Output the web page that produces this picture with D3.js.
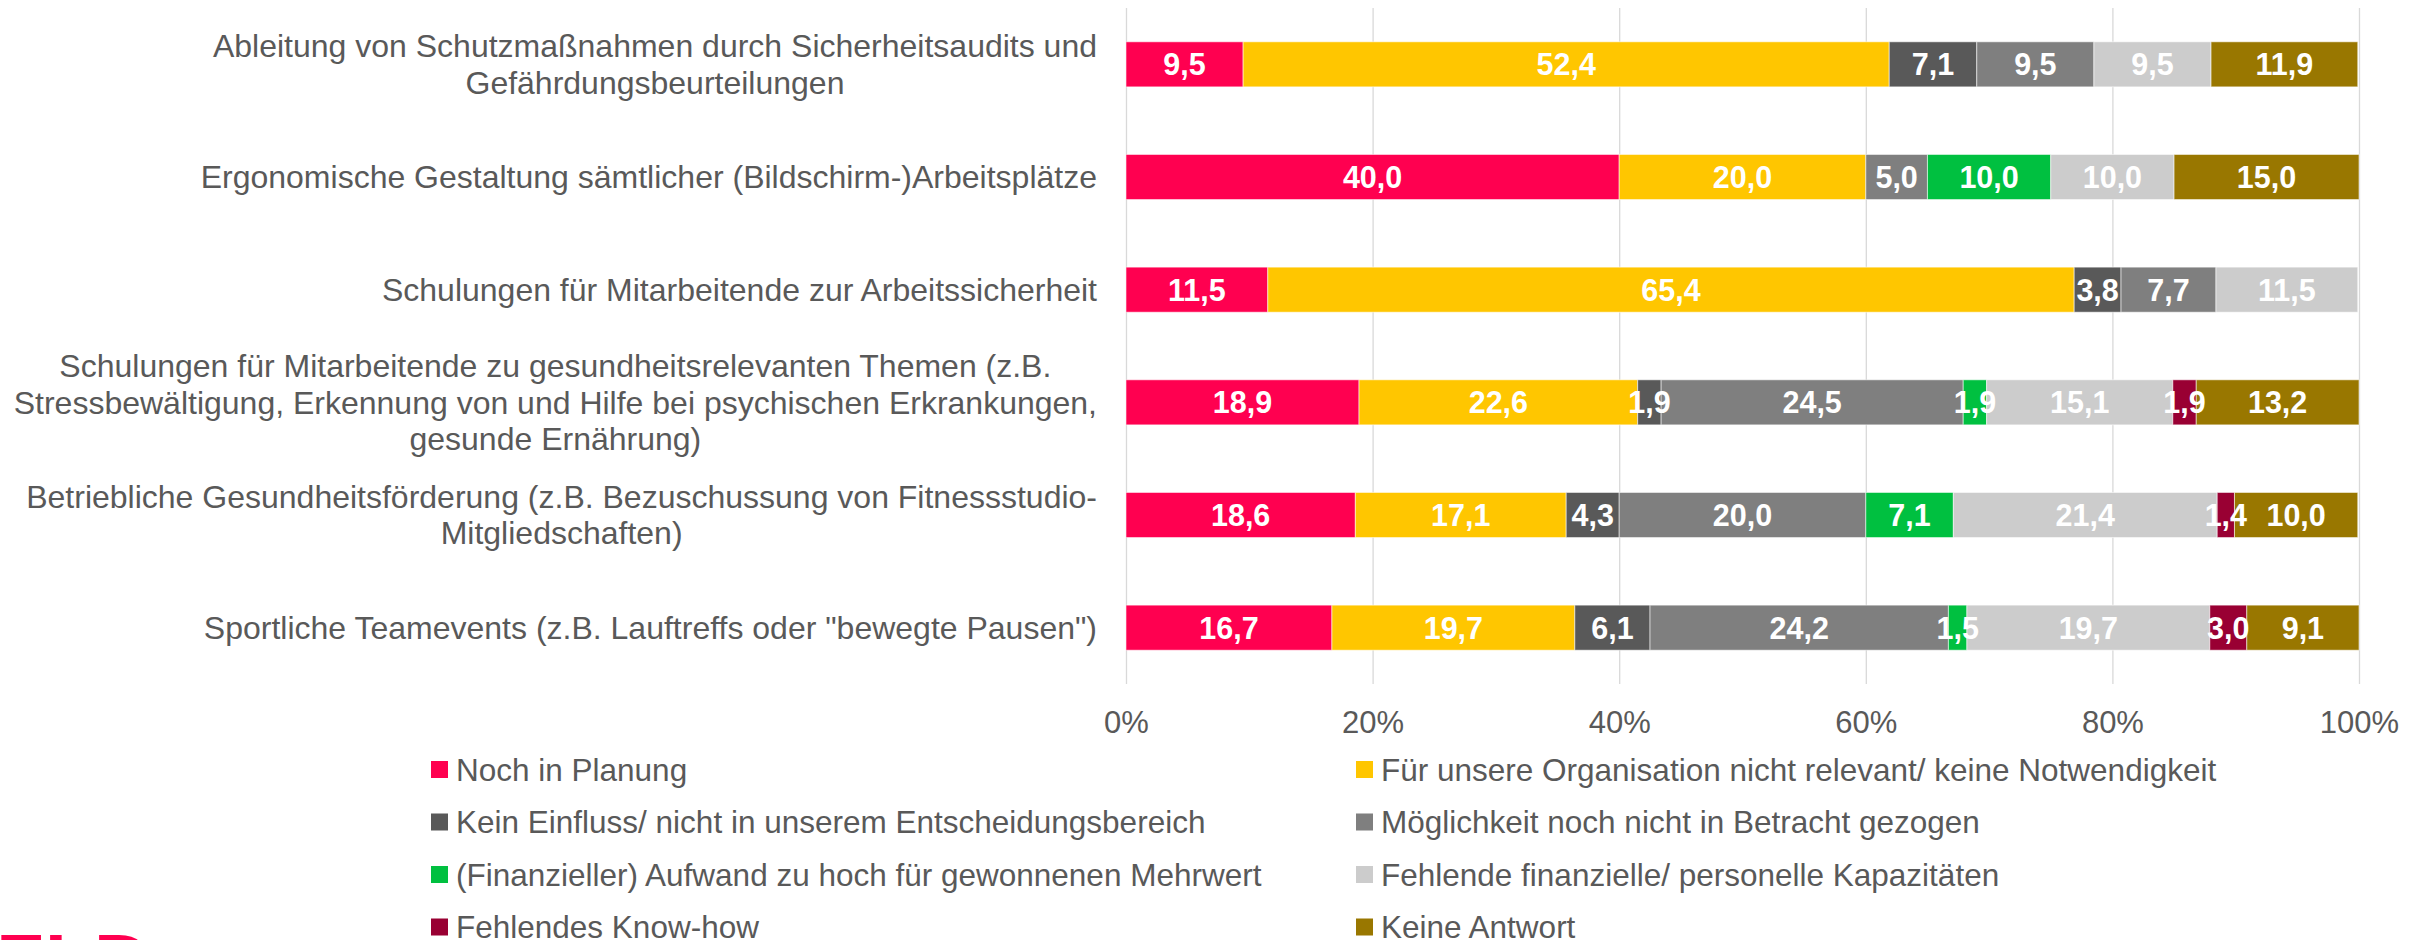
<!DOCTYPE html>
<html>
<head>
<meta charset="utf-8">
<script src="https://cdn.jsdelivr.net/npm/d3@7"></script>
<style>
  html, body { margin: 0; padding: 0; background: #ffffff; }
  svg { display: block; font-family: "Liberation Sans", Arial, sans-serif; }
</style>
</head>
<body>
<svg id="chart" width="2415" height="940"></svg>
<script>
// ---- data ----
const categories = [
  "Ableitung von Schutzmaßnahmen durch Sicherheitsaudits und\nGefährdungsbeurteilungen",
  "Ergonomische Gestaltung sämtlicher (Bildschirm-)Arbeitsplätze",
  "Schulungen für Mitarbeitende zur Arbeitssicherheit",
  "Schulungen für Mitarbeitende zu gesundheitsrelevanten Themen (z.B.\nStressbewältigung, Erkennung von und Hilfe bei psychischen Erkrankungen,\ngesunde Ernährung)",
  "Betriebliche Gesundheitsförderung (z.B. Bezuschussung von Fitnessstudio-\nMitgliedschaften)",
  "Sportliche Teamevents (z.B. Lauftreffs oder \"bewegte Pausen\")"
];
const seriesNames = [
  "Noch in Planung",
  "Für unsere Organisation nicht relevant/ keine Notwendigkeit",
  "Kein Einfluss/ nicht in unserem Entscheidungsbereich",
  "Möglichkeit noch nicht in Betracht gezogen",
  "(Finanzieller) Aufwand zu hoch für gewonnenen Mehrwert",
  "Fehlende finanzielle/ personelle Kapazitäten",
  "Fehlendes Know-how",
  "Keine Antwort"
];
const nochInPlanung      = [9.5, 40.0, 11.5, 18.9, 18.6, 16.7];
const nichtRelevant      = [52.4, 20.0, 65.4, 22.6, 17.1, 19.7];
const keinEinfluss       = [7.1, 0, 3.8, 1.9, 4.3, 6.1];
const nichtInBetracht    = [9.5, 5.0, 7.7, 24.5, 20.0, 24.2];
const aufwandZuHoch      = [0, 10.0, 0, 1.9, 7.1, 1.5];
const fehlendeKapazitaet = [9.5, 10.0, 11.5, 15.1, 21.4, 19.7];
const fehlendesKnowHow   = [0, 0, 0, 1.9, 1.4, 3.0];
const keineAntwort       = [11.9, 15.0, 0, 13.2, 10.0, 9.1];
const xTicks = [0, 20, 40, 60, 80, 100];
const colors = ["#FF0050", "#FFC600", "#595959", "#7F7F7F", "#00C040", "#CCCCCC", "#990033", "#997700"];

const seriesValues = [nochInPlanung, nichtRelevant, keinEinfluss, nichtInBetracht,
                      aufwandZuHoch, fehlendeKapazitaet, fehlendesKnowHow, keineAntwort];

// table for d3.stack
const table = categories.map((c, i) => {
  const row = { category: c };
  seriesNames.forEach((s, j) => { row[s] = seriesValues[j][i]; });
  return row;
});

const svg = d3.select("#chart");
const textColor = "#595959";

const x = d3.scaleLinear().domain([0, 100]).range([1126, 2359]);
const y = d3.scaleBand().domain(categories).range([8, 684]).paddingInner(0.6).paddingOuter(0.3);
const color = d3.scaleOrdinal().domain(seriesNames).range(colors);

// gridlines
const grid = svg.append("g").attr("transform", "translate(0,684)")
  .call(d3.axisBottom(x).tickValues(xTicks).tickSize(-676).tickFormat(""));
grid.select(".domain").remove();
grid.selectAll(".tick line").attr("stroke", "#D9D9D9").attr("stroke-width", 1.3);

// tick labels
const axis = svg.append("g").attr("transform", "translate(0,684)")
  .call(d3.axisBottom(x).tickValues(xTicks).tickSize(0).tickPadding(27).tickFormat(d => d + "%"));
axis.select(".domain").remove();
axis.selectAll("text").attr("fill", textColor).attr("font-size", 31)
  .style("font-family", "'Liberation Sans', Arial, sans-serif");

// stacked bars
const stacked = d3.stack().keys(seriesNames)(table);
const layers = svg.append("g").selectAll("g").data(stacked).join("g")
  .attr("fill", d => color(d.key));
layers.selectAll("rect").data(d => d.filter(s => s[1] - s[0] > 0)).join("rect")
  .attr("x", d => x(d[0]))
  .attr("y", d => y(d.data.category))
  .attr("width", d => x(d[1]) - x(d[0]))
  .attr("height", y.bandwidth())
  .attr("stroke", "#ffffff").attr("stroke-opacity", 0.55).attr("stroke-width", 1);

// data labels
const labels = svg.append("g");
stacked.forEach(layer => {
  layer.forEach(s => {
    const v = s[1] - s[0];
    if (v <= 0) return;
    labels.append("text")
      .attr("x", x((s[0] + s[1]) / 2))
      .attr("y", y(s.data.category) + y.bandwidth() / 2)
      .attr("dy", "0.36em")
      .attr("text-anchor", "middle")
      .attr("fill", "#ffffff")
      .attr("font-weight", "bold")
      .attr("font-size", 30.5)
      .text(d3.format(".1f")(v).replace(".", ","));
  });
});

// category labels (lines centered within a right-aligned block)
const catG = svg.append("g");
const rightEdge = 1097, lineH = 36.5, catFont = 32;
categories.forEach(c => {
  const lines = c.split("\n");
  const g = catG.append("g");
  const texts = lines.map(l => g.append("text").attr("font-size", catFont).attr("fill", textColor).text(l));
  const maxW = d3.max(texts, t => t.node().getComputedTextLength());
  const cx = rightEdge - maxW / 2;
  const cy = y(c) + y.bandwidth() / 2;
  texts.forEach((t, i) => {
    t.attr("x", cx).attr("text-anchor", "middle")
     .attr("y", cy + (i - (lines.length - 1) / 2) * lineH)
     .attr("dy", "0.35em");
  });
});

// legend
const legendCols = [431, 1356];
const legendRows = [769.5, 822, 874.5, 927];
const legend = svg.append("g");
seriesNames.forEach((s, i) => {
  const lx = legendCols[i % 2], ly = legendRows[Math.floor(i / 2)];
  legend.append("rect").attr("x", lx).attr("y", ly - 8.5).attr("width", 17).attr("height", 17)
    .attr("fill", color(s));
  legend.append("text").attr("x", lx + 25).attr("y", ly).attr("dy", "0.35em")
    .attr("font-size", 31.5).attr("fill", textColor).text(s);
});

// partially visible logo at bottom-left
svg.append("text").attr("x", -4).attr("y", 990).attr("font-size", 80).attr("font-weight", "bold")
  .attr("fill", "#FF0050").text("ZLD");
</script>
</body>
</html>
